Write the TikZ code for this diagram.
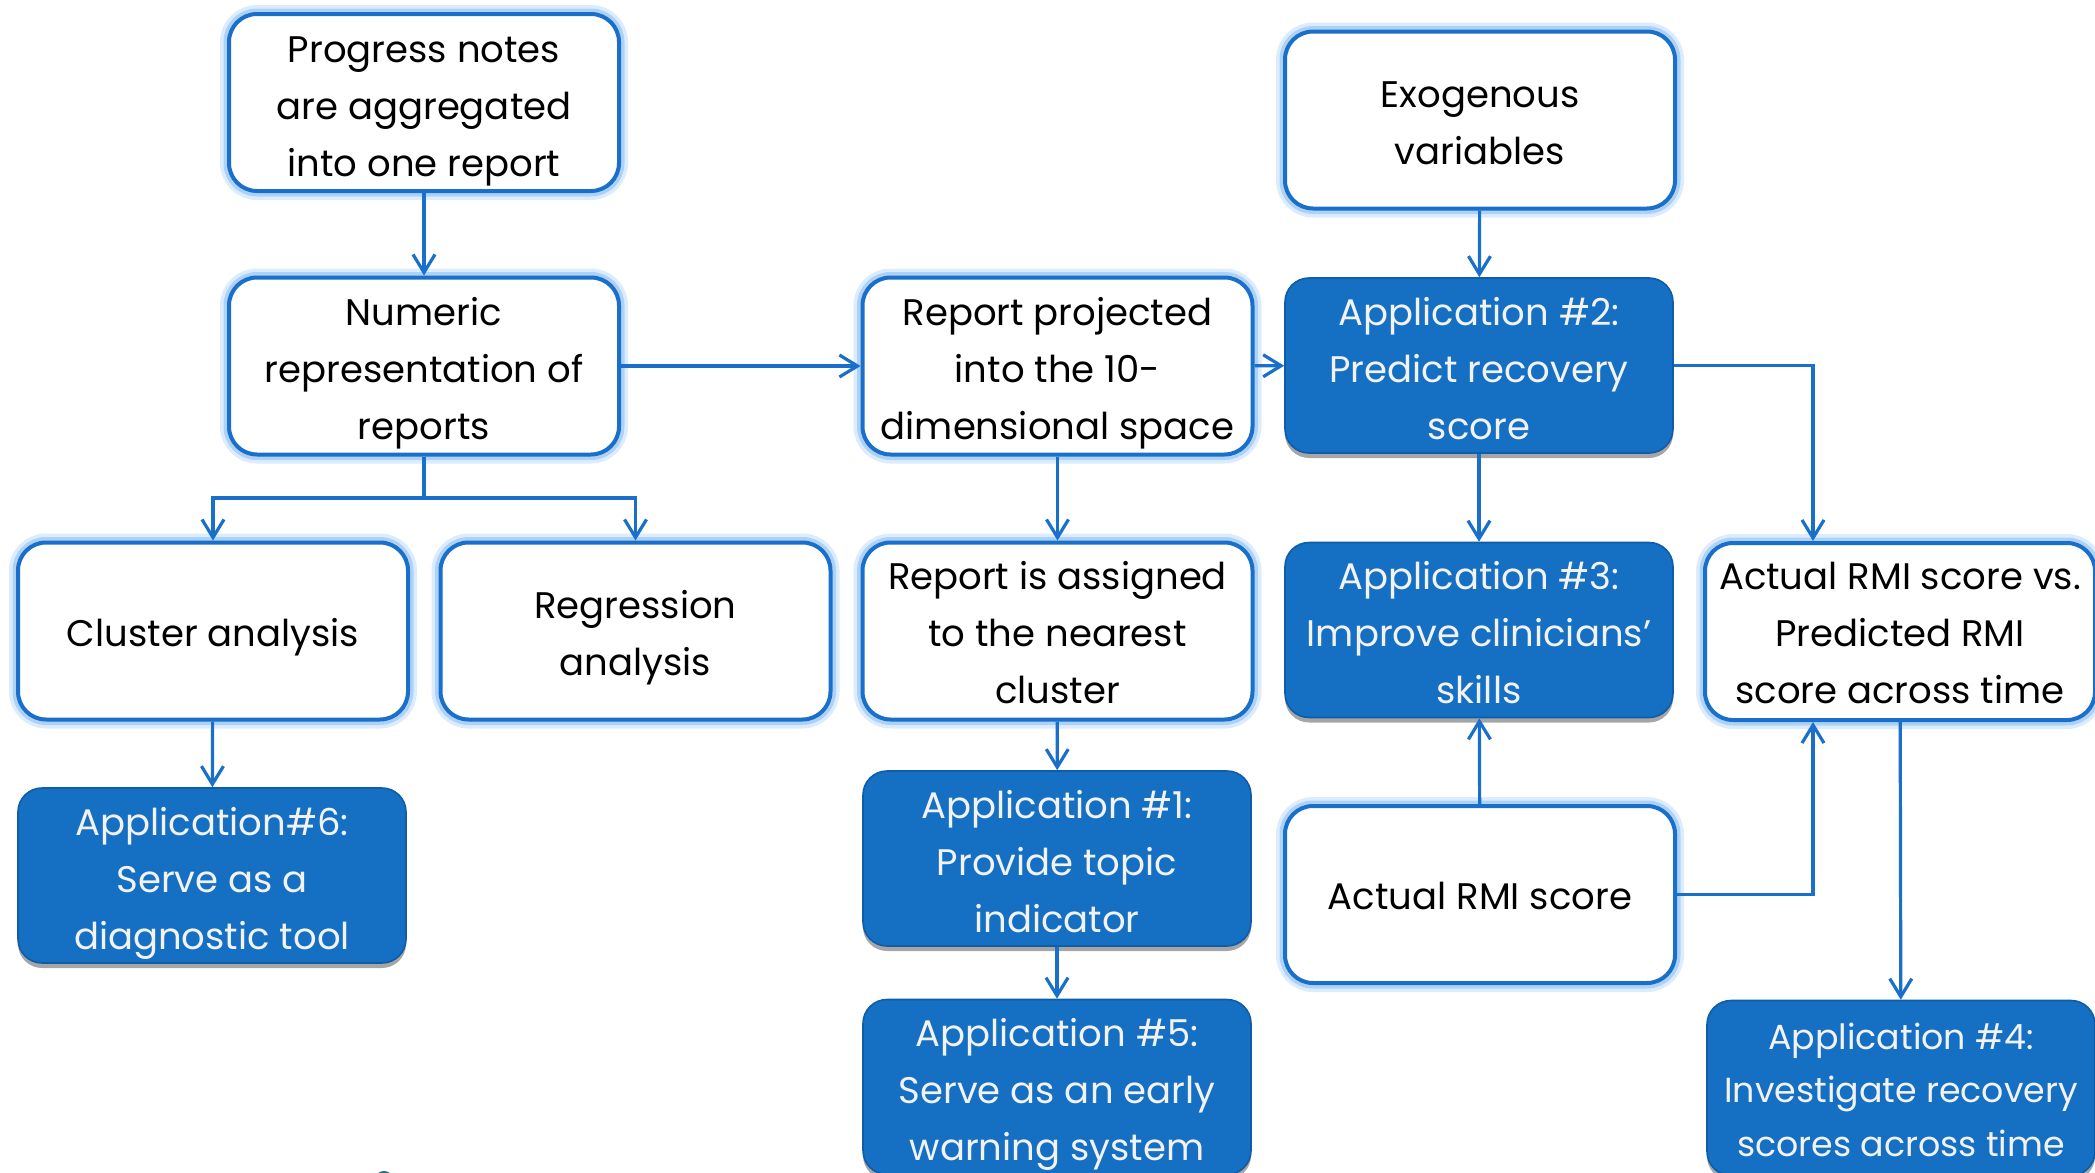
\documentclass[tikz,border=0pt]{standalone}
\usepackage{fontspec}
\setmainfont{Poppins}
\usetikzlibrary{arrows.meta,shadows}
\definecolor{lineblue}{HTML}{1A6FCA}
\definecolor{glowblue}{HTML}{8EC0F5}
\definecolor{boxblue}{HTML}{156FC2}
\definecolor{boxedge}{HTML}{0F5CA8}
\definecolor{offwhite}{HTML}{F2F2F2}
\definecolor{tealmark}{HTML}{1E6A7E}
\newcommand{\boxtext}[2][2.3pt]{\raisebox{-#1}[\height][\depth]{\begin{tabular}{@{}c@{}}#2\end{tabular}}}
\tikzset{
  txt/.style={align=center, font=\fontsize{18.5}{28.5}\selectfont, inner sep=0pt},
  wbox/.style={txt, draw=lineblue, line width=2pt, fill=white, rounded corners=14pt,
    minimum width=195pt, minimum height=88.5pt, text=black,
    preaction={draw=glowblue, line width=9pt, opacity=0.3},
    preaction={draw=glowblue, line width=5.5pt, opacity=0.6}},
  bbox/.style={txt, draw=boxedge, line width=0.8pt, fill=boxblue, rounded corners=12pt,
    minimum width=194pt, minimum height=87.5pt, text=offwhite,
    drop shadow={shadow xshift=0pt, shadow yshift=-2.5pt, opacity=0.35, fill=black}},
  smallfont/.style={font=\fontsize{17.4}{26.8}\selectfont},
  conn/.style={draw=lineblue, line width=1.6pt, -{Straight Barb[length=9pt,width=11pt,line width=1.6pt]}},
  plain/.style={draw=lineblue, line width=1.6pt}
}
\begin{document}
\begin{tikzpicture}[x=0.5pt,y=-0.5pt]
\useasboundingbox (0,0) rectangle (2095,1173);
% row 1
\node[wbox] (A) at (424,102.5) {\boxtext[3pt]{Progress notes\\are aggregated\\into one report}};
\node[wbox] (E) at (1480,120) {\boxtext{Exogenous\\variables}};
% row 2
\node[wbox] (B) at (424,366) {\boxtext{Numeric\\representation of\\reports}};
\node[wbox] (C) at (1057.5,366) {\boxtext{Report projected\\into the 10-\\dimensional space}};
\node[bbox] (P2) at (1479,365.5) {\boxtext[2.6pt]{Application \#2:\\Predict recovery\\score}};
% row 3
\node[wbox] (CL) at (213,631) {\boxtext[2pt]{Cluster analysis}};
\node[wbox] (RG) at (635.5,631) {\boxtext{Regression\\analysis}};
\node[wbox] (AS) at (1057.5,631) {\boxtext[2pt]{Report is assigned\\to the nearest\\cluster}};
\node[bbox] (P3) at (1479,630) {\boxtext{Application \#3:\\Improve clinicians’\\skills}};
\node[wbox] (AV) at (1900,631.5) {\boxtext[1.7pt]{Actual RMI score vs.\\Predicted RMI\\score across time}};
% row 4
\node[bbox] (P6) at (212,875.5) {\boxtext[2.6pt]{Application\#6:\\Serve as a\\diagnostic tool}};
\node[bbox] (P1) at (1057,858.5) {\boxtext[2.6pt]{Application \#1:\\Provide topic\\indicator}};
\node[wbox] (AR) at (1480,894.5) {\boxtext[2pt]{Actual RMI score}};
% row 5
\node[bbox] (P5) at (1057,1087) {\boxtext{Application \#5:\\Serve as an early\\warning system}};
\node[bbox, smallfont] (P4) at (1901,1088) {\boxtext[2pt]{Application \#4:\\Investigate recovery\\scores across time}};
% helper points
\coordinate (split) at (424,498);
\coordinate (AVtop) at ([xshift=-43.5pt]AV.north);
\coordinate (AVbot) at ([xshift=-43.5pt]AV.south);
% connectors
\draw[conn] (A) -- (B);
\draw[conn] (B) -- (C);
\draw[conn] (C) -- (P2);
\draw[conn] (E) -- (P2);
\draw[plain] (B) -- (split);
\draw[conn] (split) -| (CL);
\draw[conn] (split) -| (RG);
\draw[conn] (C) -- (AS);
\draw[conn] (P2) -- (P3);
\draw[conn] (P2.east) -| (AVtop);
\draw[conn] (AR) -- (P3);
\draw[conn] (AR.east) -| (AVbot);
\draw[conn] (AV) -- (P4);
\draw[conn] (CL) -- (P6);
\draw[conn] (AS) -- (P1);
\draw[conn] (P1) -- (P5);
% small cut-off mark at the bottom edge
\fill[tealmark] (384,1180) ellipse (9 and 9);
\end{tikzpicture}
\end{document}
